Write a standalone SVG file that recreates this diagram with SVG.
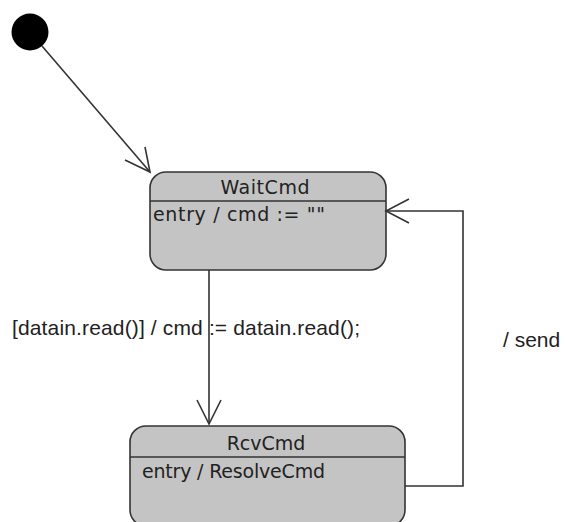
<svg xmlns="http://www.w3.org/2000/svg" width="565" height="522" viewBox="0 0 565 522">
<style>
.state{fill:#c4c4c4;stroke:#333;stroke-width:1.6}
.sep{stroke:#333;stroke-width:1.6}
.title{font-family:"DejaVu Sans",Verdana,sans-serif;font-size:19px;fill:#222;text-anchor:middle}
.act{font-family:"DejaVu Sans",Verdana,sans-serif;font-size:19px;fill:#222}
.lbl{font-family:"Liberation Sans",Arial,sans-serif;font-size:21px;fill:#222}
.edge{fill:none;stroke:#333;stroke-width:1.6}
</style>
<rect width="565" height="522" fill="#fff"/>
<g id="initial">
<circle cx="30" cy="32" r="18.5" fill="#000"/>
</g>
<g id="WaitCmd">
<rect class="state" x="150" y="172" width="236" height="98" rx="16"/>
<line class="sep" x1="150" y1="201" x2="386" y2="201"/>
<text class="title" x="265" y="194" textLength="89">WaitCmd</text>
<text class="act" x="153" y="221" textLength="172">entry / cmd := ""</text>
</g>
<g id="RcvCmd">
<rect class="state" x="130" y="426" width="275" height="100" rx="16"/>
<line class="sep" x1="130" y1="457" x2="405" y2="457"/>
<text class="title" x="266" y="450">RcvCmd</text>
<text class="act" x="142" y="478" textLength="183">entry / ResolveCmd</text>
</g>
<g id="connectors">
<line class="edge" x1="42" y1="46" x2="150" y2="172"/>
<polyline class="edge" points="125,160 150,172 145,147"/>
<line class="edge" x1="209" y1="270" x2="209" y2="424"/>
<polyline class="edge" points="197,400 209,424 221,400"/>
<polyline class="edge" points="405,486 463,486 463,211 386,211"/>
<polyline class="edge" points="409,199 386,211 409,223"/>
<text class="lbl" x="12" y="335" textLength="348">[datain.read()]  / cmd := datain.read();</text>
<text class="lbl" x="503" y="347">/ send</text>
</g>
</svg>
